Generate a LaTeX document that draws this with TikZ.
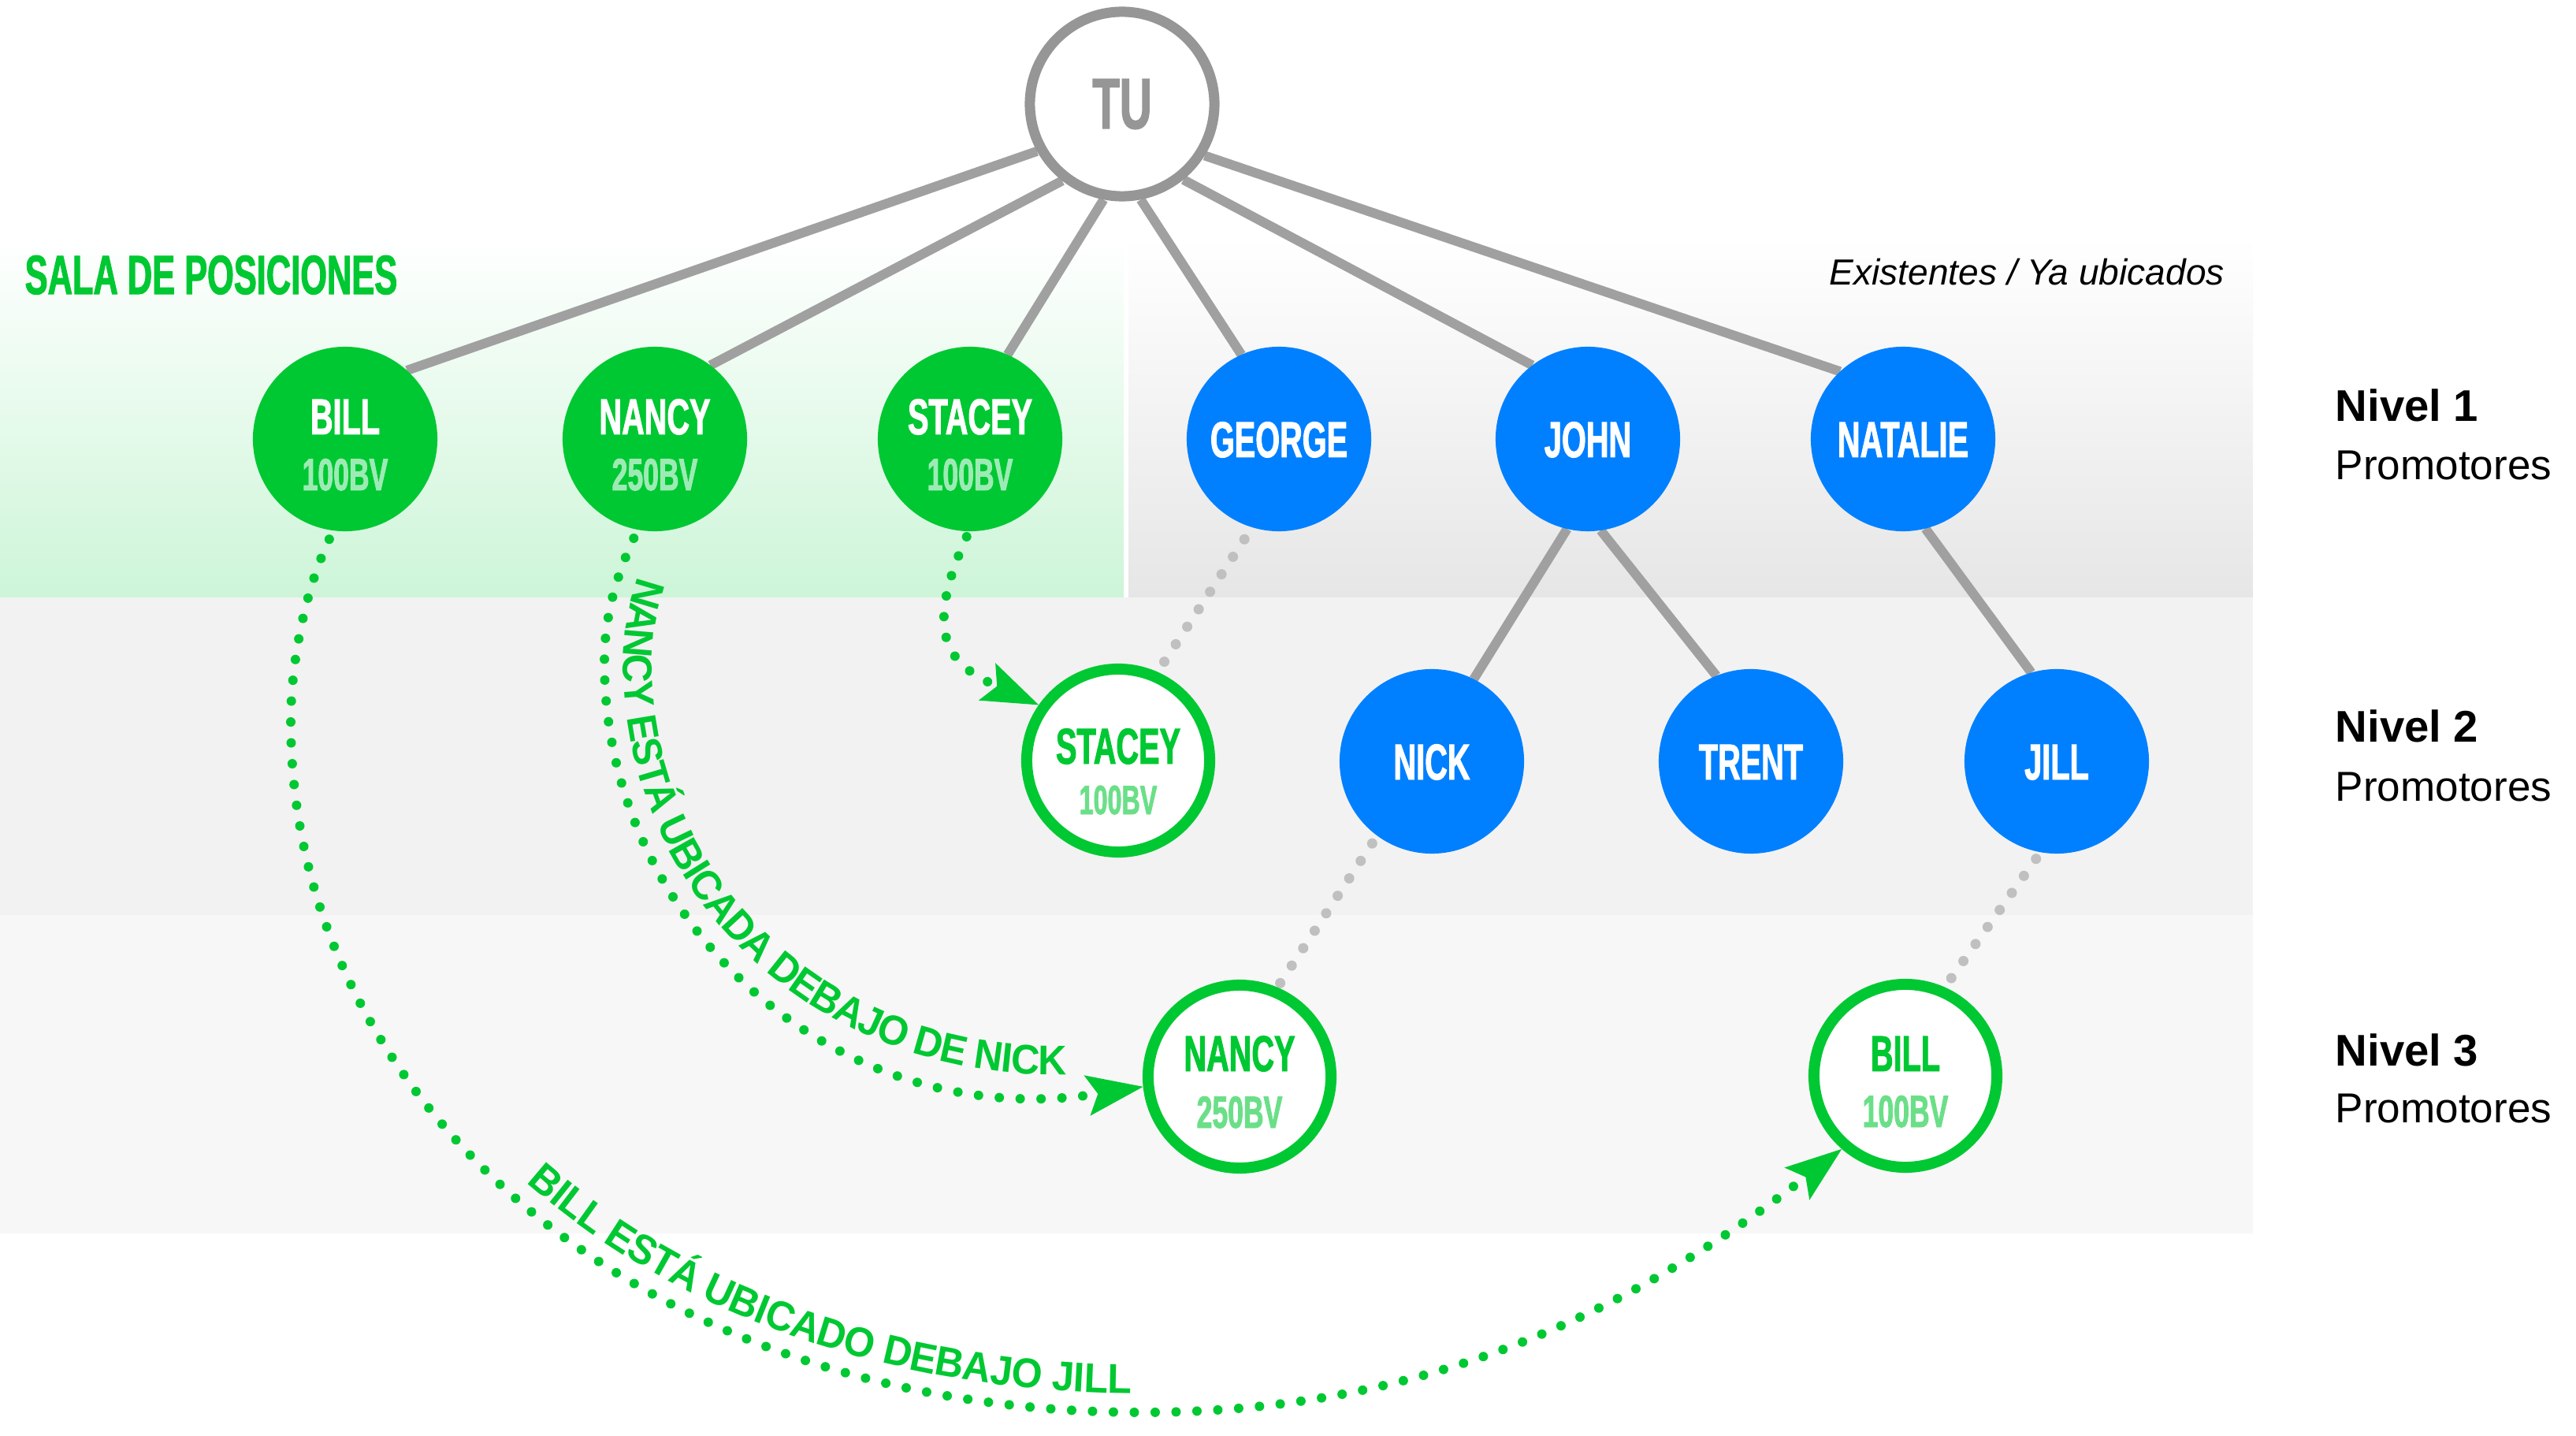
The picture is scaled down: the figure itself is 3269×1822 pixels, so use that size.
\documentclass[tikz,border=0pt]{standalone}
\usepackage{fontspec}
\setmainfont{Liberation Sans}
\newfontface\condfont[FakeStretch=0.62,FakeBold=1.5]{Liberation Sans Bold}
\newfontface\arcfont[FakeStretch=0.95]{Liberation Sans Bold}
\usetikzlibrary{arrows.meta,decorations.text,calc}
\definecolor{gg}{HTML}{00C832}
\definecolor{bvpale}{HTML}{9DEBB4}
\definecolor{bvring}{HTML}{6BDF88}
\definecolor{bb}{HTML}{0080FF}
\definecolor{glinec}{HTML}{A0A0A0}
\definecolor{tuc}{HTML}{969696}
\definecolor{gdotc}{HTML}{C0C0C0}
\definecolor{bandg}{HTML}{CDF5D8}
\definecolor{bandk}{HTML}{E6E6E6}
\definecolor{bandb}{HTML}{F2F2F2}
\definecolor{bandc}{HTML}{F7F7F7}
\pgfdeclarelayer{bands}
\pgfdeclarelayer{lines}
\pgfsetlayers{bands,lines,main}
\tikzset{
  fillnode/.style={circle, minimum size=2.34cm, inner sep=0pt, outer sep=0pt},
  gfill/.style={fillnode, fill=gg},
  bfill/.style={fillnode, fill=bb},
  ringnode/.style={circle, minimum size=2.32cm, inner sep=0pt, draw=gg, line width=0.14cm, fill=white},
  tunode/.style={circle, minimum size=2.34cm, inner sep=0pt, draw=tuc, line width=0.13cm, fill=white},
  nm/.style={inner sep=0pt, anchor=base, font=\condfont\fontsize{18.2}{20}\selectfont},
  bv/.style={inner sep=0pt, anchor=base, font=\condfont\fontsize{16.3}{18}\selectfont},
  gline/.style={draw=glinec, line width=0.12cm},
  gdots/.style={draw=gdotc, line width=0.13cm, line cap=round, dash pattern=on 0pt off 0.265cm},
  grarrow/.style={draw=gg, line width=0.12cm, line cap=round, dash pattern=on 0pt off 0.265cm,
     -{Stealth[length=0.72cm,width=0.52cm,inset=0.14cm,line width=0pt]}},
  lvl/.style={anchor=base west, inner sep=0pt, font=\bfseries\fontsize{16}{18}\selectfont},
  prom/.style={anchor=base west, inner sep=0pt, font=\fontsize{15.1}{18}\selectfont},
}
\begin{document}
\begin{tikzpicture}[x=0.01cm, y=-0.01cm]
\useasboundingbox (0,0) rectangle (3269,1822);
% bands
\begin{pgfonlayer}{bands}
  \shade[top color=white, bottom color=bandg] (0,300) rectangle (1426,758);
  \shade[top color=white, bottom color=bandk] (1432,300) rectangle (2859,758);
  \fill[bandb] (0,758) rectangle (2859,1161);
  \fill[bandc] (0,1161) rectangle (2859,1565);
\end{pgfonlayer}

% nodes
\node[tunode] (tu) at (1424,132) {};
\node[nm, text=tuc, font=\condfont\fontsize{25.9}{28}\selectfont] (tut) at (1424,163) {TU};

\node[gfill] (bill) at (438,557) {};
\node[nm, text=white] (billn) at (438,551) {BILL};
\node[bv, text=bvpale] (billb) at (438,622) {100BV};

\node[gfill] (nancy) at (831,557) {};
\node[nm, text=white] (nancyn) at (831,551) {NANCY};
\node[bv, text=bvpale] (nancyb) at (831,622) {250BV};

\node[gfill] (stacey) at (1231,557) {};
\node[nm, text=white] (staceyn) at (1231,551) {STACEY};
\node[bv, text=bvpale] (staceyb) at (1231,622) {100BV};

\node[bfill] (george) at (1623,557) {};
\node[nm, text=white] (georgen) at (1623,580) {GEORGE};
\node[bfill] (john) at (2015,557) {};
\node[nm, text=white] (johnn) at (2015,580) {JOHN};
\node[bfill] (natalie) at (2415,557) {};
\node[nm, text=white] (natalien) at (2415,580) {NATALIE};

\node[ringnode] (stacey2) at (1419,965) {};
\node[nm, text=gg] (stacey2n) at (1419,969) {STACEY};
\node[bv, text=bvring, font=\condfont\fontsize{14.8}{17}\selectfont] (stacey2b) at (1419,1033) {100BV};

\node[bfill] (nick) at (1817,966) {};
\node[nm, text=white] (nickn) at (1817,989) {NICK};
\node[bfill] (trent) at (2222,966) {};
\node[nm, text=white] (trentn) at (2222,989) {TRENT};
\node[bfill] (jill) at (2610,966) {};
\node[nm, text=white] (jilln) at (2610,989) {JILL};

\node[ringnode] (nancy3) at (1573,1366) {};
\node[nm, text=gg] (nancy3n) at (1573,1359) {NANCY};
\node[bv, text=bvring] (nancy3b) at (1573,1431) {250BV};

\node[ringnode] (bill3) at (2418,1365) {};
\node[nm, text=gg] (bill3n) at (2418,1359) {BILL};
\node[bv, text=bvring] (bill3b) at (2418,1430) {100BV};

% connectors
\begin{pgfonlayer}{lines}
  \draw[gline] (tu.209.7) -- (bill.48);
  \draw[gline] (tu.232) -- (nancy.53);
  \draw[gline] (tu.259) -- (stacey.66);
  \draw[gline] (tu.281) -- (george.114);
  \draw[gline] (tu.309) -- (john.127);
  \draw[gline] (tu.328) -- (natalie.133);
  \draw[gline] (john.257) -- (nick.63);
  \draw[gline] (john.278) -- (trent.112);
  \draw[gline] (natalie.284) -- (jill.106.5);
  \draw[gdots] ($(george.center)!1.15!(george.251)$) -- (stacey2.66);
  \draw[gdots] ($(nick.center)!1.1!(nick.234)$) -- (nancy3.67.5);
  \draw[gdots] ($(jill.center)!1.08!(jill.258)$) -- (bill3.66);
\end{pgfonlayer}

% green moves
\draw[grarrow] ($(stacey.center)!1.06!(stacey.268)$) .. controls (1168,810) and (1208,845) .. (stacey2.145);

\draw[grarrow] ($(nancy.center)!1.1!(nancy.258)$) .. controls (778,740) and (767,790) .. (767,840)
   .. controls (767,1170) and (1061,1440) .. (nancy3.186);
\path[decorate, decoration={text along path,
   text={|\arcfont\fontsize{15}{18}\selectfont\color{gg}|NANCY ESTÁ UBICADA DEBAJO DE NICK},
   text align={left indent=0.45cm}, raise=0.24cm}]
   ($(nancy.center)!1.1!(nancy.258)$) .. controls (778,740) and (767,790) .. (767,840)
   .. controls (767,1170) and (1061,1440) .. (nancy3.186);

\draw[grarrow] ($(bill.center)!1.1!(bill.261)$) .. controls (384,756) and (369,850) .. (369,915)
   .. controls (369,1395) and (810,1792) .. (1450,1792)
   .. controls (1766,1792) and (2034,1693) .. (bill3.229);
\path[decorate, decoration={text along path,
   text={|\arcfont\fontsize{15}{18}\selectfont\color{gg}|BILL ESTÁ UBICADO DEBAJO JILL},
   text align={left indent=9.25cm}, raise=0.24cm}]
   ($(bill.center)!1.1!(bill.261)$) .. controls (384,756) and (369,850) .. (369,915)
   .. controls (369,1395) and (810,1792) .. (1450,1792)
   .. controls (1766,1792) and (2034,1693) .. (bill3.229);

% labels
\node[anchor=base west, inner sep=0pt, text=gg, font=\condfont\fontsize{19.9}{22}\selectfont] (sala) at (31,373) {SALA DE POSICIONES};
\node[anchor=base west, inner sep=0pt, font=\itshape\fontsize{13.1}{15}\selectfont] (exist) at (2321,362) {Existentes / Ya ubicados};
\node[lvl] (n1) at (2963,535) {Nivel 1};
\node[prom] (p1) at (2963,609) {Promotores};
\node[lvl] (n2) at (2963,942) {Nivel 2};
\node[prom] (p2) at (2963,1016) {Promotores};
\node[lvl] (n3) at (2963,1352) {Nivel 3};
\node[prom] (p3) at (2963,1424) {Promotores};
\end{tikzpicture}
\end{document}
